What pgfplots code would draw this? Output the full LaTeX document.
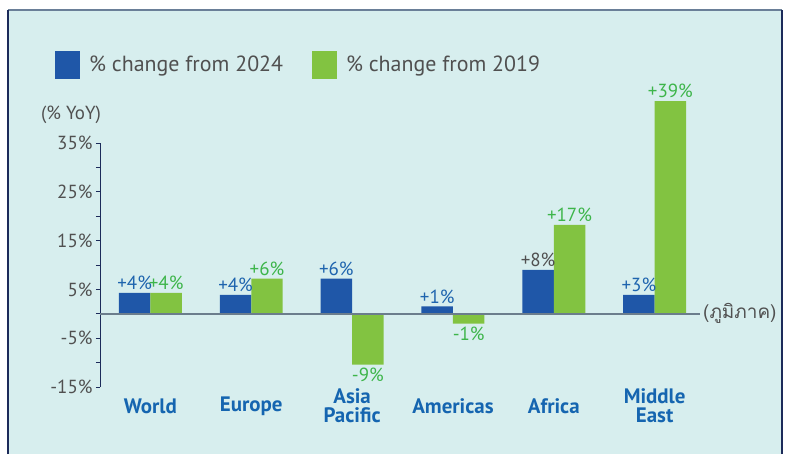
\documentclass[border=0pt]{standalone}
\usepackage{pgfplots}
\pgfplotsset{compat=1.18}
\usepackage{fontspec}
\setmainfont{PT Sans}
\newfontfamily\thaifont[Script=Thai]{Loma}
\definecolor{barblue}{HTML}{1F57A8}
\definecolor{bargreen}{HTML}{82C341}
\definecolor{bgc}{HTML}{D7EEEE}
\definecolor{lblblue}{HTML}{1E64AE}
\definecolor{lblgreen}{HTML}{3DB54A}
\definecolor{txtgray}{HTML}{505050}
\definecolor{catblue}{HTML}{1565B0}
\definecolor{navy}{HTML}{1C2B5A}
\definecolor{zeroc}{HTML}{6B7D8C}
\definecolor{topline}{HTML}{6A7F98}
\begin{document}
\begin{tikzpicture}
\fill[white] (0bp,0bp) rectangle (789bp,454bp);
\fill[bgc] (8bp,0bp) rectangle (782bp,444bp);
\draw[topline, line width=1.5bp] (8bp,444bp) -- (782bp,444bp);
\draw[navy, line width=1.2bp] (8bp,0bp) -- (8bp,444bp);
\draw[navy, line width=1.2bp] (782bp,0bp) -- (782bp,444bp);
\begin{axis}[
  at={(100bp,67bp)}, anchor=south west,
  scale only axis, width=600bp, height=244bp,
  xmin=-0.5, xmax=5.45, ymin=-15, ymax=35,
  clip=false,
  axis lines*=left,
  x axis line style={draw=none},
  y axis line style={navy, line width=1bp},
  xtick={0,...,5},
  xticklabels={World, Europe, {Asia\\Pacific}, Americas, Africa, {Middle\\East}},
  xticklabel style={align=center, anchor=center, yshift=-15bp, font=\bfseries\fontsize{21}{19}\selectfont, text=catblue},
  major x tick style={draw=none},
  ytick={-15,-5,5,15,25,35},
  minor ytick={-10,0,10,20,30},
  yticklabels={-15\%,-5\%,5\%,15\%,25\%,35\%},
  yticklabel style={font=\fontsize{19}{19}\selectfont, text=txtgray},
  tick align=outside,
  major tick length=4bp, minor tick length=4bp,
  y tick style={navy, line width=0.8bp},
  ybar=0pt, bar width=0.312,
  nodes near coords, point meta=explicit symbolic,
  visualization depends on={rawy \as \rawy},
  every node near coord/.append style={font=\fontsize{19}{19}\selectfont, inner xsep=0pt, inner ysep=3bp},
  every node near coord/.append code={\ifdim\rawy pt<0pt\pgfkeysalso{anchor=north}\else\pgfkeysalso{anchor=south}\fi},
  legend columns=2,
  legend style={at={(-0.075,1.32)}, anchor=west, draw=none, fill=none, inner sep=0pt,
    font=\fontsize{22}{22}\selectfont, text=txtgray,
    /tikz/every even column/.append style={column sep=27bp}},
  legend image code/.code={\fill[#1] (0bp,-14bp) rectangle (25bp,14bp); \path (32bp,0bp);},
]
\addplot[fill=barblue, draw=none, every node near coord/.append style={text=lblblue}] coordinates {
  (0,4.3) [+4\%]
  (1,3.9) [+4\%]
  (2,7.2) [+6\%]
  (3,1.5) [+1\%]
  (4,9.0) [\textcolor{txtgray}{+8\%}]
  (5,3.9) [+3\%]
};
\addplot[fill=bargreen, draw=none, every node near coord/.append style={text=lblgreen}] coordinates {
  (0,4.3) [+4\%]
  (1,7.2) [+6\%]
  (2,-10.4) [-9\%]
  (3,-2.0) [-1\%]
  (4,18.2) [+17\%]
  (5,43.6) [+39\%]
};
\legend{\% change from 2024, \% change from 2019}
\draw[zeroc, line width=2bp] (axis cs:-0.5,0) -- (axis cs:5.45,0);
\node[anchor=west, font=\thaifont\fontsize{19}{19}\selectfont, text=txtgray, inner sep=3bp] at (axis cs:5.45,0) {(ภูมิภาค)};
\end{axis}
\node[font=\fontsize{19}{19}\selectfont, text=txtgray] at (71bp,339bp) {(\% YoY)};
\end{tikzpicture}
\end{document}
